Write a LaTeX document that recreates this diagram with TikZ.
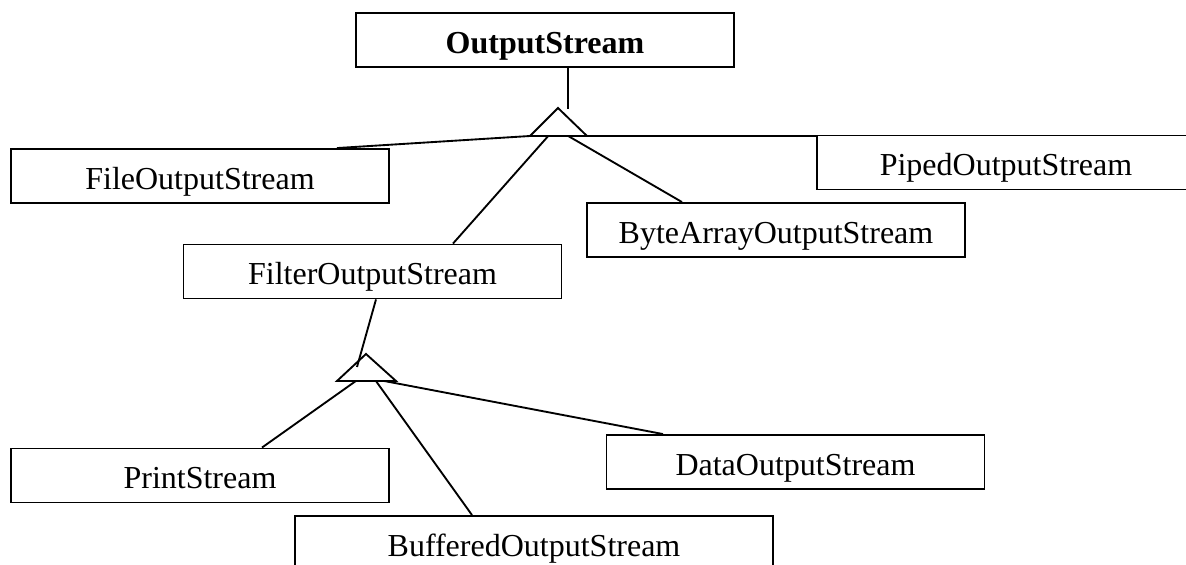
\documentclass[tikz,border=0pt]{standalone}
\usepackage{fontspec}
\setmainfont{Liberation Serif}
\usetikzlibrary{calc}
\begin{document}
\begin{tikzpicture}[x=0.375pt,y=-0.375pt,line width=0.7pt,every node/.style={font=\fontsize{12}{14}\selectfont},
  cls/.style={draw,minimum width=141.75pt,minimum height=20.25pt,inner sep=0pt,text height=11pt,text depth=1.2pt}]
\useasboundingbox (0,0) rectangle (1186,565);
\node[cls] (out) at (545,40) {\textbf{OutputStream}};
\node[cls] (file) at (200,176) {FileOutputStream};
\node[cls] (piped) at (1006,162.5) {PipedOutputStream};
\node[cls] (byte) at (776,230) {ByteArrayOutputStream};
\node[cls] (filter) at (372.5,271.5) {FilterOutputStream};
\node[cls] (print) at (200,475.5) {PrintStream};
\node[cls] (data) at (795.5,462) {DataOutputStream};
\node[cls,minimum width=179.25pt] (buf) at (534,543) {BufferedOutputStream};
% inheritance triangles
\coordinate (a1) at (558,108); \coordinate (l1) at (530,136); \coordinate (r1) at (587,136);
\coordinate (a2) at (366,354); \coordinate (l2) at (337,381); \coordinate (r2) at (396,381);
\draw (a1) -- (l1) -- (r1) -- cycle;
\draw (a2) -- (l2) -- (r2) -- cycle;
\draw ($(out.south)+(23,0)$) -- ++(0,41);
\draw (l1) -- ($(file.north)+(137,0)$);
\draw (l1) -- (l1 -| piped.north west);
\draw ($(l1)!0.32!(r1)$) -- ($(filter.north)+(80.5,0)$);
\draw ($(l1)!0.67!(r1)$) -- ($(byte.north)+(-94,0)$);
\draw ($(filter.south)+(3.5,0)$) -- ($(a2)+(-9,13)$);
\draw ($(l2)!0.32!(r2)$) -- ($(print.north)+(62,0)$);
\draw ($(l2)!0.66!(r2)$) -- ($(buf.north)+(-62,0)$);
\draw ($(l2)!0.8!(r2)$) -- ($(data.north)+(-132.5,0)$);
\end{tikzpicture}
\end{document}
